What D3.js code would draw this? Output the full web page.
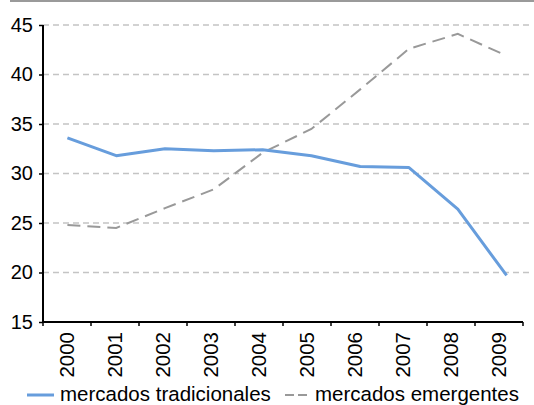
<!DOCTYPE html>
<meta charset="utf-8">
<html>
<head>
<style>
  body { margin: 0; background: #fff; }
  svg { display: block; font-family: Arial, "Liberation Sans", sans-serif; }
</style>
</head>
<body>
<div id="chart"></div>
<script src="https://d3js.org/d3.v7.min.js"></script>
<script>

// chart values
var years = ["2000","2001","2002","2003","2004","2005","2006","2007","2008","2009"];
var tradicionales = [33.6, 31.8, 32.5, 32.3, 32.4, 31.8, 30.7, 30.6, 26.4, 19.7];
var emergentes   = [24.8, 24.5, 26.5, 28.4, 32.1, 34.5, 38.5, 42.6, 44.1, 41.9];
var yTicks = [15, 20, 25, 30, 35, 40, 45];
var seriesNames = ["mercados tradicionales", "mercados emergentes"];

var width = 534, height = 405;
var plotLeft = 43, plotRight = 531, plotTop = 25, plotBottom = 322;
var axisEnd = 523;

var svg = d3.select("#chart")
  .append("svg")
    .attr("width", width)
    .attr("height", height);

// thin rule across the top
svg.append("line")
  .attr("x1", 10).attr("x2", width)
  .attr("y1", 1).attr("y2", 1)
  .attr("stroke", "#9a9a9a")
  .attr("stroke-width", 2);

var x = d3.scaleBand()
  .domain(years)
  .range([plotLeft, plotRight]);

// the axis ticks and labels sit a little tighter than the data points
var xTick = d3.scaleLinear()
  .domain([0, years.length])
  .range([plotLeft, axisEnd]);

var y = d3.scaleLinear()
  .domain([15, 45])
  .range([plotBottom, plotTop]);

// gridlines
svg.append("g")
  .selectAll("line")
  .data(yTicks.filter(function(d) { return d > 15; }))
  .enter().append("line")
    .attr("x1", plotLeft).attr("x2", plotRight)
    .attr("y1", function(d) { return y(d); })
    .attr("y2", function(d) { return y(d); })
    .attr("stroke", "#c4c4c4")
    .attr("stroke-width", 1.3)
    .attr("stroke-dasharray", "6,4");

var line = d3.line()
  .x(function(d, i) { return x(years[i]) + x.bandwidth() / 2; })
  .y(function(d) { return y(d); });

svg.append("path")
  .datum(emergentes)
  .attr("fill", "none")
  .attr("stroke", "#999999")
  .attr("stroke-width", 2)
  .attr("stroke-dasharray", "13,7")
  .attr("d", line);

svg.append("path")
  .datum(tradicionales)
  .attr("fill", "none")
  .attr("stroke", "#679ddc")
  .attr("stroke-width", 3)
  .attr("stroke-linejoin", "round")
  .attr("d", line);

// y axis
var yAxis = svg.append("g")
  .attr("transform", "translate(" + plotLeft + ",0)")
  .call(d3.axisLeft(y).tickValues(yTicks).tickSize(4).tickPadding(6));
yAxis.select(".domain").attr("stroke", "#000").attr("stroke-width", 2)
  .attr("d", "M0," + plotTop + "V" + plotBottom);
yAxis.selectAll(".tick line").attr("stroke", "#000").attr("stroke-width", 1.5);
yAxis.selectAll("text").style("font-size", "20px").attr("fill", "#000");

// x axis
var xAxis = svg.append("g")
  .attr("transform", "translate(0," + plotBottom + ")")
  .call(d3.axisBottom(x).tickSize(0).tickPadding(0));
xAxis.select(".domain").attr("stroke", "#000").attr("stroke-width", 2)
  .attr("d", "M" + plotLeft + ",0H" + axisEnd);
xAxis.selectAll("text")
  .style("font-size", "20.5px")
  .attr("fill", "#000")
  .attr("transform", "rotate(-90)")
  .attr("x", -10)
  .attr("y", function(d, i) { return xTick(i + 0.5) - (x(d) + x.bandwidth() / 2); })
  .attr("dy", "0.35em")
  .style("text-anchor", "end");

svg.append("g")
  .selectAll("line")
  .data(d3.range(years.length + 1))
  .enter().append("line")
    .attr("x1", function(d) { return xTick(d); })
    .attr("x2", function(d) { return xTick(d); })
    .attr("y1", plotBottom).attr("y2", plotBottom + 4)
    .attr("stroke", "#000")
    .attr("stroke-width", 1.5);

// legend
var legend = svg.append("g");
legend.append("line")
  .attr("x1", 27).attr("x2", 54).attr("y1", 395).attr("y2", 395)
  .attr("stroke", "#679ddc").attr("stroke-width", 3);
legend.append("text")
  .attr("x", 60).attr("y", 401)
  .style("font-size", "20.5px")
  .text(seriesNames[0]);
legend.append("line")
  .attr("x1", 285).attr("x2", 310).attr("y1", 395).attr("y2", 395)
  .attr("stroke", "#999999").attr("stroke-width", 2)
  .attr("stroke-dasharray", "9,4");
legend.append("text")
  .attr("x", 315).attr("y", 401)
  .style("font-size", "20.5px")
  .text(seriesNames[1]);

</script>
</body>
</html>
